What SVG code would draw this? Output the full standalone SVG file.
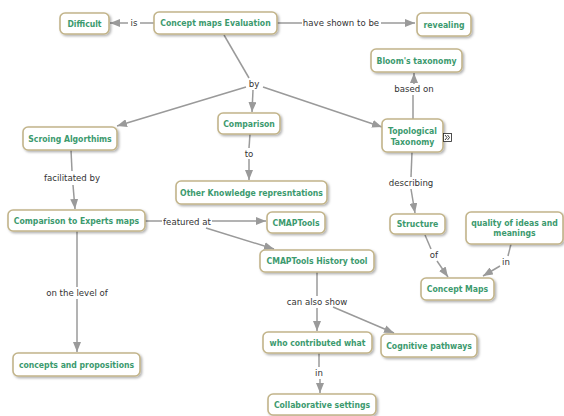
<svg xmlns="http://www.w3.org/2000/svg" width="564" height="416" viewBox="0 0 564 416">
<style>
.n rect.b{fill:#fff;stroke:#c2b48a;stroke-width:1.6;filter:url(#sh)}
.n text{font-family:"DejaVu Sans Condensed","DejaVu Sans",sans-serif;font-size:8.6px;font-weight:bold;fill:#3c9a6e;text-anchor:middle}
.c line{stroke:#9a9a9a;stroke-width:1.5}
.c line.a{marker-end:url(#ar)}
.l{font-family:"DejaVu Sans",Verdana,sans-serif;font-size:8.6px;fill:#333;text-anchor:middle}
</style>
<defs>
<filter id="sh" x="-20%" y="-30%" width="140%" height="170%"><feDropShadow dx="1.5" dy="1.5" stdDeviation="1" flood-color="#000" flood-opacity="0.3"/></filter>
<marker id="ar" markerUnits="userSpaceOnUse" markerWidth="10" markerHeight="8" refX="10" refY="4" orient="auto"><path d="M0,0 L10,4 L0,8 z" fill="#9a9a9a"/></marker>
</defs>
<rect width="564" height="416" fill="#fff"/>
<g id="connectors" class="c">
<line x1="154" y1="23" x2="140" y2="23"/><line class="a" x1="128" y1="23" x2="110" y2="23"/>
<line x1="277" y1="23" x2="302" y2="23"/><line class="a" x1="381" y1="23" x2="415" y2="23"/>
<line x1="224" y1="35" x2="249" y2="78"/>
<line class="a" x1="246" y1="87" x2="117" y2="126"/>
<line class="a" x1="253" y1="90" x2="252" y2="112"/>
<line class="a" x1="263" y1="87" x2="382" y2="127"/>
<line x1="413" y1="119" x2="413" y2="95"/><line class="a" x1="414" y1="84" x2="414" y2="73"/>
<line x1="250" y1="134" x2="249" y2="148"/><line class="a" x1="249" y1="159" x2="249" y2="180"/>
<line x1="71" y1="150" x2="72" y2="171"/><line class="a" x1="73" y1="185" x2="75" y2="209"/>
<line x1="145" y1="221" x2="162" y2="221"/><line class="a" x1="212" y1="221" x2="266" y2="221"/>
<line class="a" x1="206" y1="228" x2="274" y2="249"/>
<line x1="77" y1="231" x2="77" y2="287"/><line class="a" x1="77" y1="299" x2="77" y2="352"/>
<line x1="412" y1="152" x2="411" y2="177"/><line class="a" x1="411" y1="189" x2="415" y2="213"/>
<line x1="425" y1="235" x2="431" y2="249"/><line class="a" x1="437" y1="261" x2="448" y2="277"/>
<line x1="511" y1="244" x2="508" y2="256"/><line class="a" x1="500" y1="266" x2="483" y2="276"/>
<line x1="317" y1="272" x2="317" y2="296"/><line class="a" x1="317" y1="308" x2="317" y2="331"/>
<line class="a" x1="333" y1="307" x2="394" y2="333"/>
<line x1="319" y1="353" x2="319" y2="367"/><line class="a" x1="320" y1="379" x2="320" y2="393"/>
</g>
<g id="labels">
<text class="l" x="134" y="26">is</text>
<text class="l" x="341" y="26">have shown to be</text>
<text class="l" x="254" y="87">by</text>
<text class="l" x="414" y="92">based on</text>
<text class="l" x="249" y="157">to</text>
<text class="l" x="72" y="181">facilitated by</text>
<text class="l" x="187" y="225">featured at</text>
<text class="l" x="77" y="296">on the level of</text>
<text class="l" x="411" y="186">describing</text>
<text class="l" x="434" y="258">of</text>
<text class="l" x="506" y="265">in</text>
<text class="l" x="317" y="305">can also show</text>
<text class="l" x="319" y="376">in</text>
</g>
<g id="n-difficult" class="n"><rect class="b" x="60" y="13" width="49" height="21" rx="5"/><text x="84.5" y="26.5">Difficult</text></g>
<g id="n-cme" class="n"><rect class="b" x="154" y="12" width="123" height="22" rx="5"/><text x="215.5" y="26">Concept maps Evaluation</text></g>
<g id="n-revealing" class="n"><rect class="b" x="417" y="13" width="54" height="23" rx="5"/><text x="444" y="27.5">revealing</text></g>
<g id="n-bloom" class="n"><rect class="b" x="371" y="49" width="91" height="23" rx="5"/><text x="416.5" y="63.5">Bloom's taxonomy</text></g>
<g id="n-topo" class="n"><rect class="b" x="382" y="119" width="61" height="33" rx="5"/><text x="412.5" y="133.5">Topological</text><text x="412.5" y="144.5">Taxonomy</text>
<rect x="443.5" y="133.5" width="8" height="8" fill="#fff" stroke="#222" stroke-width="0.8"/><polyline points="445,135 447,137.5 445,140" fill="none" stroke="#222" stroke-width="0.9"/><polyline points="447.5,135 449.5,137.5 447.5,140" fill="none" stroke="#222" stroke-width="0.9"/></g>
<g id="n-comparison" class="n"><rect class="b" x="218" y="113" width="62" height="21" rx="5"/><text x="249" y="126.5">Comparison</text></g>
<g id="n-other" class="n"><rect class="b" x="176" y="181" width="151" height="23" rx="5"/><text x="251.5" y="195.5">Other Knowledge represntations</text></g>
<g id="n-scroing" class="n"><rect class="b" x="23" y="127" width="94" height="23" rx="5"/><text x="70" y="141.5">Scroing Algorthims</text></g>
<g id="n-ctoe" class="n"><rect class="b" x="8" y="210" width="137" height="21" rx="5"/><text x="76.5" y="223.5">Comparison to Experts maps</text></g>
<g id="n-cmaptools" class="n"><rect class="b" x="267" y="212" width="58" height="21" rx="5"/><text x="296" y="225.5">CMAPTools</text></g>
<g id="n-history" class="n"><rect class="b" x="260" y="250" width="114" height="22" rx="5"/><text x="317" y="264">CMAPTools History tool</text></g>
<g id="n-structure" class="n"><rect class="b" x="390" y="214" width="55" height="20" rx="5"/><text x="417.5" y="227">Structure</text></g>
<g id="n-quality" class="n"><rect class="b" x="466" y="212" width="97" height="32" rx="5"/><text x="514.5" y="225.5">quality of ideas and</text><text x="514.5" y="236">meanings</text></g>
<g id="n-cmaps" class="n"><rect class="b" x="421" y="278" width="73" height="22" rx="5"/><text x="457.5" y="292">Concept Maps</text></g>
<g id="n-who" class="n"><rect class="b" x="263" y="332" width="109" height="21" rx="5"/><text x="317.5" y="345.5">who contributed what</text></g>
<g id="n-cognitive" class="n"><rect class="b" x="381" y="334" width="96" height="23" rx="5"/><text x="429" y="348.5">Cognitive pathways</text></g>
<g id="n-collab" class="n"><rect class="b" x="268" y="394" width="108" height="21" rx="5"/><text x="322" y="407.5">Collaborative settings</text></g>
<g id="n-concepts" class="n"><rect class="b" x="13" y="353" width="127" height="23" rx="5"/><text x="76.5" y="367.5">concepts and propositions</text></g>
</svg>
